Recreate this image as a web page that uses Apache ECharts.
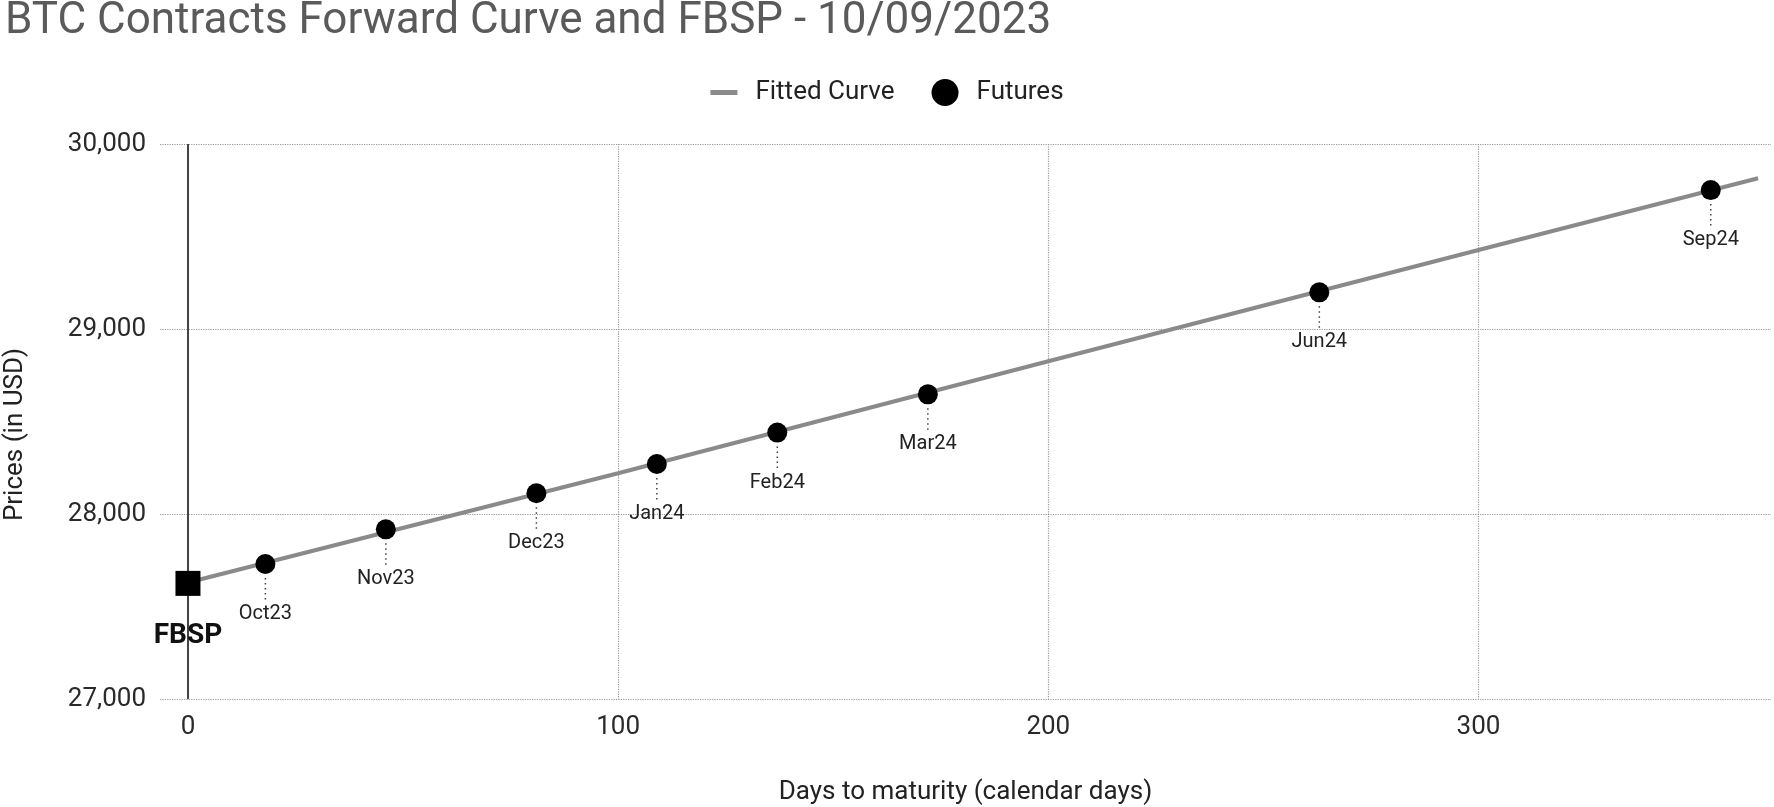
<!DOCTYPE html>
<html>
<head>
<meta charset="utf-8">
<script src="https://cdn.jsdelivr.net/npm/echarts@6/dist/echarts.min.js"></script>
<style>
  html, body { margin: 0; padding: 0; background: #fff; }
  #chart { width: 1774px; height: 807px; }
</style>
</head>
<body>
<div id="chart"></div>
<script>
// futures contracts (days to maturity from 10/09/2023)
const contracts = ['Oct23', 'Nov23', 'Dec23', 'Jan24', 'Feb24', 'Mar24', 'Jun24', 'Sep24'];
const futureDays = [18, 46, 81, 109, 137, 172, 263, 354];
const futurePrices = [27730, 27917, 28112, 28270, 28440, 28647, 29198, 29751];

// FBSP point
const fbspDay = 0;
const fbspPrice = 27625;

// fitted forward curve
const curveDays = [0, 100, 200, 300, 365];
const curvePrices = [27630, 28220, 28826, 29427, 29815];

const yTicks = [27000, 28000, 29000, 30000];

const FONT = 'Roboto';

const chart = echarts.init(document.getElementById('chart'));

const futuresData = futureDays.map(function (d, i) {
  return { value: [d, futurePrices[i]], name: contracts[i] };
});

// dotted leader line under each futures point
function renderLeader(params, api) {
  const p = api.coord([api.value(0), api.value(1)]);
  return {
    type: 'line',
    shape: { x1: p[0], y1: p[1] + 14, x2: p[0], y2: p[1] + 37 },
    style: { stroke: '#444', lineWidth: 1.5, lineDash: [1.5, 3.5] },
    silent: true
  };
}

chart.setOption({
  animation: false,
  textStyle: { fontFamily: FONT },
  title: {
    text: 'BTC Contracts Forward Curve and FBSP - 10/09/2023',
    left: 0,
    top: -5,
    textStyle: { fontSize: 44, fontWeight: 'normal', color: '#5a5a5a', fontFamily: FONT }
  },
  legend: {
    data: [
      { name: 'Fitted Curve', icon: 'path://M0,0 H27 V5 H0 Z' },
      { name: 'Futures', icon: 'circle' }
    ],
    left: 'center',
    top: 74,
    itemWidth: 27,
    itemHeight: 27,
    itemGap: 37,
    textStyle: { fontSize: 26, color: '#222', padding: [0, 0, 0, 13], fontFamily: FONT }
  },
  grid: {
    left: 160,
    right: 3,
    top: 144,
    bottom: 108,
    outerBoundsMode: 'none'
  },
  xAxis: {
    type: 'value',
    min: -6.5,
    max: 368,
    name: 'Days to maturity (calendar days)',
    nameLocation: 'middle',
    nameGap: 80,
    nameTextStyle: { fontSize: 26, color: '#222' },
    axisLine: { show: false },
    axisTick: { show: false },
    axisLabel: {
      fontSize: 26,
      color: '#2a2a2a',
      margin: 15,
      showMinLabel: false,
      showMaxLabel: false
    },
    splitLine: {
      show: true,
      showMinLine: false,
      showMaxLine: false,
      lineStyle: { color: '#999', type: 'dotted', width: 1.2 }
    }
  },
  yAxis: {
    type: 'value',
    min: yTicks[0],
    max: yTicks[yTicks.length - 1],
    interval: 1000,
    name: 'Prices (in USD)',
    nameLocation: 'middle',
    nameGap: 132,
    nameTextStyle: { fontSize: 26, color: '#222', padding: [0, 26, 0, 0] },
    axisLine: { show: false },
    axisTick: { show: false },
    axisLabel: { fontSize: 26, color: '#2a2a2a', margin: 14 },
    splitLine: {
      show: true,
      lineStyle: { color: '#999', type: 'dotted', width: 1.2 }
    }
  },
  series: [
    {
      name: 'Fitted Curve',
      type: 'line',
      symbol: 'none',
      color: '#8a8a8a',
      lineStyle: { color: '#8a8a8a', width: 4 },
      data: curveDays.map(function (d, i) { return [d, curvePrices[i]]; }),
      z: 2,
      markLine: {
        silent: true,
        symbol: 'none',
        label: { show: false },
        lineStyle: { color: '#444', width: 2, type: 'solid' },
        data: [{ xAxis: 0 }]
      }
    },
    {
      name: 'Leaders',
      type: 'custom',
      renderItem: renderLeader,
      data: futuresData,
      silent: true,
      z: 3
    },
    {
      name: 'Futures',
      type: 'scatter',
      symbol: 'circle',
      symbolSize: 20,
      color: '#000',
      itemStyle: { color: '#000', opacity: 1 },
      data: futuresData,
      z: 4,
      label: {
        show: true,
        position: 'bottom',
        distance: 30,
        formatter: '{b}',
        fontSize: 20,
        color: '#222'
      }
    },
    {
      name: 'FBSP',
      type: 'scatter',
      symbol: 'rect',
      symbolSize: 25,
      itemStyle: { color: '#000', opacity: 1 },
      data: [{ value: [fbspDay, fbspPrice], name: 'FBSP' }],
      z: 5,
      label: {
        show: true,
        position: 'bottom',
        distance: 26,
        formatter: '{b}',
        fontSize: 28,
        fontWeight: 'bold',
        color: '#111'
      }
    }
  ]
});
</script>
</body>
</html>
